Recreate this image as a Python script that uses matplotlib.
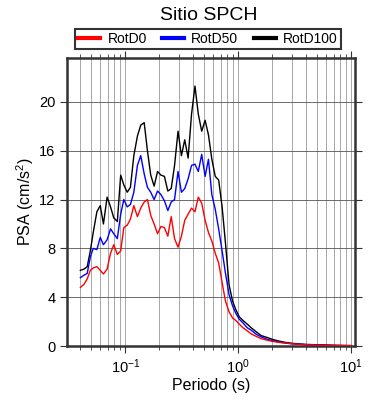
import numpy as np
import matplotlib
matplotlib.use('Agg')
import matplotlib.pyplot as plt
from matplotlib.ticker import LogLocator, FixedLocator
from matplotlib.lines import Line2D

plt.rcParams['font.family'] = ['Liberation Sans', 'DejaVu Sans']
plt.rcParams['mathtext.fontset'] = 'custom'
plt.rcParams['mathtext.rm'] = 'Liberation Sans'
plt.rcParams['mathtext.it'] = 'Liberation Sans:italic'

# Periodos (s)
periodos = [0.04, 0.043, 0.046, 0.049, 0.052, 0.056, 0.06, 0.064, 0.069, 0.074,
            0.079, 0.085, 0.091, 0.097, 0.104, 0.111, 0.119, 0.128, 0.137, 0.147,
            0.157, 0.168, 0.18, 0.193, 0.207, 0.222, 0.238, 0.255, 0.273, 0.293,
            0.314, 0.336, 0.36, 0.386, 0.414, 0.443, 0.475, 0.509, 0.545, 0.584,
            0.626, 0.671, 0.72, 0.77, 0.83, 0.89, 0.95, 1.02, 1.1, 1.2,
            1.3, 1.45, 1.6, 1.8, 2.0, 2.3, 2.6, 3.0, 3.5, 4.0,
            5.0, 6.0, 7.5, 10.0]

rotd0 = [4.8, 5.05, 5.5, 6.2, 6.4, 6.5, 6.2, 5.9, 6.3, 7.6,
         8.3, 7.5, 7.8, 9.7, 9.9, 10.4, 11.5, 10.6, 11.3, 11.8,
         12.0, 10.7, 10.0, 9.2, 9.8, 9.7, 9.0, 10.6, 8.8, 8.1,
         9.0, 10.3, 10.8, 11.3, 11.0, 12.2, 11.7, 10.3, 9.3, 8.6,
         7.6, 6.8, 5.2, 3.7, 2.8, 2.3, 2.1, 1.8, 1.5, 1.25,
         1.0, 0.78, 0.6, 0.48, 0.38, 0.3, 0.24, 0.18, 0.13, 0.1,
         0.07, 0.05, 0.04, 0.03]

rotd50 = [5.6, 5.8, 5.95, 7.3, 8.0, 7.9, 8.9, 8.3, 8.7, 9.6,
          9.2, 8.8, 10.8, 12.0, 11.4, 11.6, 12.6, 14.8, 15.6, 14.1,
          13.0, 12.6, 12.0, 12.7, 12.4, 11.9, 11.1, 11.8, 12.0, 14.3,
          12.6, 12.9, 13.7, 14.8, 14.9, 14.3, 15.7, 13.9, 15.3, 12.4,
          11.2, 9.6, 7.8, 6.0, 4.2, 3.3, 2.7, 2.2, 1.9, 1.5,
          1.3, 0.95, 0.75, 0.55, 0.45, 0.32, 0.25, 0.18, 0.14, 0.11,
          0.08, 0.06, 0.04, 0.03]

rotd100 = [6.2, 6.3, 6.5, 7.8, 9.3, 11.0, 11.5, 10.0, 12.2, 11.4,
           10.5, 10.2, 14.0, 13.2, 12.6, 13.0, 15.6, 17.2, 18.1, 18.3,
           16.0, 14.0, 13.1, 14.3, 14.0, 13.9, 12.7, 12.9, 14.8, 17.6,
           15.6, 16.9, 15.4, 19.0, 21.3, 19.0, 17.6, 18.5, 17.3, 15.3,
           13.9, 13.6, 11.4, 8.5, 5.0, 3.7, 3.0, 2.4, 2.1, 1.8,
           1.5, 1.15, 0.85, 0.7, 0.55, 0.4, 0.3, 0.22, 0.17, 0.13,
           0.1, 0.08, 0.05, 0.03]

fig = plt.figure(figsize=(3.9, 4.0), dpi=100)
ax = fig.add_axes([0.172, 0.135, 0.738, 0.72])

ax.plot(periodos, rotd100, color='black', lw=1.0, zorder=3)
ax.plot(periodos, rotd50, color='blue', lw=1.0, zorder=4)
ax.plot(periodos, rotd0, color='red', lw=1.0, zorder=5)

ax.set_xscale('log')
ax.set_xlim(0.0305, 10.8)
ax.set_ylim(0, 23.6)

ax.xaxis.set_major_locator(LogLocator(base=10, numticks=10))
ax.xaxis.set_minor_locator(LogLocator(base=10, subs=np.arange(2, 10), numticks=20))
ax.yaxis.set_major_locator(FixedLocator([0, 4, 8, 12, 16, 20]))

ax.grid(True, which='major', axis='y', color='#555555', lw=0.6)
ax.grid(True, which='both', axis='x', color='#9a9a9a', lw=0.6)
ax.set_axisbelow(True)

ax.tick_params(which='both', direction='out', top=True, right=True,
               labeltop=False, labelright=False, labelsize=10.5, color='#333333')
ax.tick_params(which='major', length=5, width=0.8)
ax.tick_params(which='minor', length=3, width=0.6)
for s in ax.spines.values():
    s.set_linewidth(1.8)
    s.set_color('#333333')

ax.set_xlabel('Periodo (s)', fontsize=11.5, labelpad=1)
ax.set_ylabel('PSA (cm/s$^2$)', fontsize=11.5, labelpad=2)

fig.text(0.535, 0.962, 'Sitio SPCH', ha='center', va='center', fontsize=14)

handles = [Line2D([], [], color='red', lw=3),
           Line2D([], [], color='blue', lw=3),
           Line2D([], [], color='black', lw=3)]
leg = fig.legend(handles, ['RotD0', 'RotD50', 'RotD100'], ncol=3,
                 loc='center', bbox_to_anchor=(0.533, 0.9025), fontsize=10,
                 frameon=True, fancybox=False, handlelength=1.6,
                 handletextpad=0.5, columnspacing=1.1, borderpad=0.25)
leg.get_frame().set_edgecolor('black')
leg.get_frame().set_linewidth(1.5)

fig.savefig('out.png', dpi=100)
